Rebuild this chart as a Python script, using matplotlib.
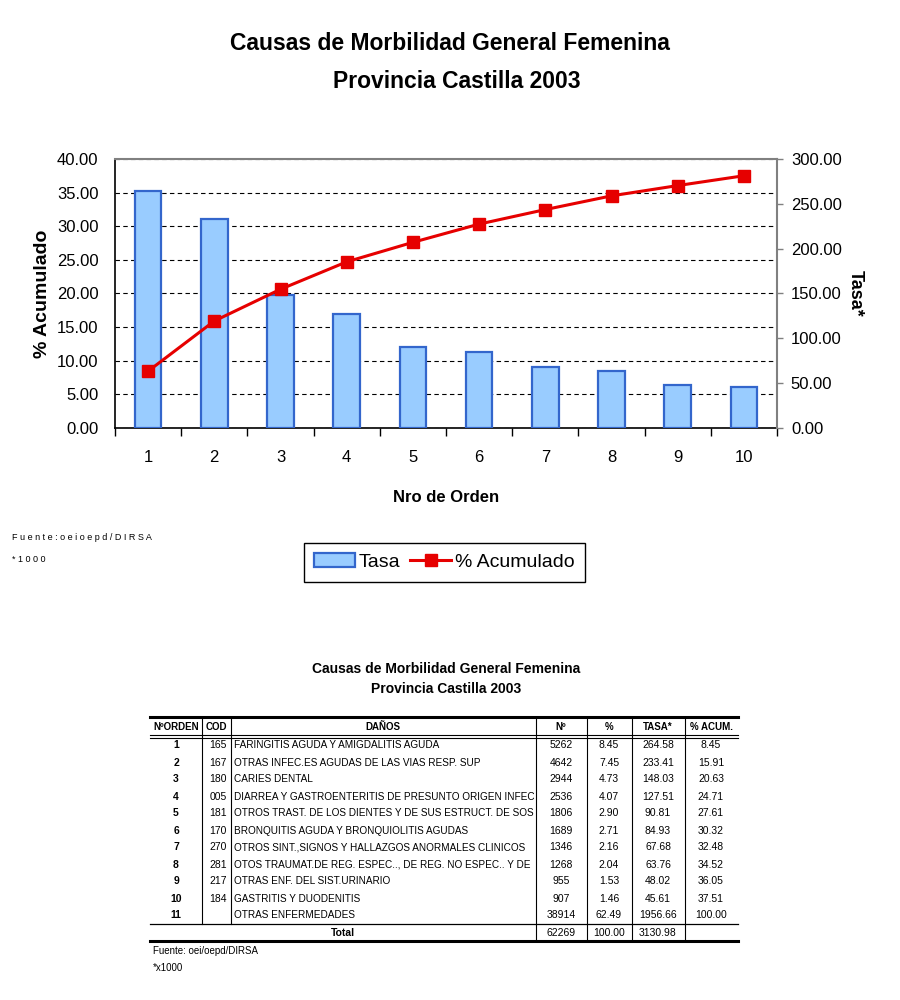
import matplotlib
matplotlib.use("Agg")
import matplotlib.pyplot as plt
from matplotlib.transforms import Bbox, TransformedBbox
from matplotlib.ticker import FixedLocator, NullFormatter, FormatStrFormatter

plt.rcParams['font.family'] = ['Liberation Sans', 'DejaVu Sans']

# ---------------- data ----------------
orden = [1, 2, 3, 4, 5, 6, 7, 8, 9, 10]
tasa = [264.58, 233.41, 148.03, 127.51, 90.81, 84.93, 67.68, 63.76, 48.02, 45.61]
acum = [8.45, 15.91, 20.63, 24.71, 27.61, 30.32, 32.48, 34.52, 36.05, 37.51]

t_orden = ['1', '2', '3', '4', '5', '6', '7', '8', '9', '10', '11']
t_cod = ['165', '167', '180', '005', '181', '170', '270', '281', '217', '184', '']
t_danos = ['FARINGITIS AGUDA Y AMIGDALITIS AGUDA',
           'OTRAS INFEC.ES AGUDAS DE LAS VIAS RESP. SUP',
           'CARIES DENTAL',
           'DIARREA Y GASTROENTERITIS DE PRESUNTO ORIGEN INFECC',
           'OTROS TRAST. DE LOS DIENTES Y DE SUS ESTRUCT. DE SOS',
           'BRONQUITIS AGUDA Y BRONQUIOLITIS AGUDAS',
           'OTROS SINT.,SIGNOS Y HALLAZGOS ANORMALES CLINICOS',
           'OTOS TRAUMAT.DE REG. ESPEC.., DE REG. NO ESPEC.. Y DE',
           'OTRAS ENF. DEL SIST.URINARIO',
           'GASTRITIS Y DUODENITIS',
           'OTRAS ENFERMEDADES']
t_n = ['5262', '4642', '2944', '2536', '1806', '1689', '1346', '1268', '955', '907', '38914']
t_pct = ['8.45', '7.45', '4.73', '4.07', '2.90', '2.71', '2.16', '2.04', '1.53', '1.46', '62.49']
t_tasa = ['264.58', '233.41', '148.03', '127.51', '90.81', '84.93', '67.68', '63.76', '48.02', '45.61', '1956.66']
t_acum = ['8.45', '15.91', '20.63', '24.71', '27.61', '30.32', '32.48', '34.52', '36.05', '37.51', '100.00']
t_total = ['62269', '100.00', '3130.98']
headers = ['NºORDEN', 'COD', 'DAÑOS', 'Nº', '%', 'TASA*', '% ACUM.']

title1 = 'Causas de Morbilidad General Femenina'
title2 = 'Provincia Castilla 2003'

# ---------------- figure ----------------
W, H = 900, 1000
fig = plt.figure(figsize=(9, 10), dpi=100)

def fx(px):
    return px / W

def fy(py):
    return 1 - py / H

# overlay in pixel coords for titles / table
ov = fig.add_axes([0, 0, 1, 1])
ov.set_xlim(0, W)
ov.set_ylim(H, 0)
ov.axis('off')

ov.text(450, 44, title1, ha='center', va='center', fontsize=16.5, fontweight='bold')
ov.text(457, 81, title2, ha='center', va='center', fontsize=16.5, fontweight='bold')

# ---------------- chart ----------------
L, R, T, B = 115, 777, 159, 428
ax = fig.add_axes([fx(L), fy(B), fx(R - L), (B - T) / H])
ax.set_xlim(0.5, 10.5)
ax.set_ylim(0, 40)
ax.yaxis.set_major_locator(FixedLocator([0, 5, 10, 15, 20, 25, 30, 35, 40]))
ax.yaxis.set_major_formatter(FormatStrFormatter('%.2f'))
ax.grid(axis='y', color='black', linestyle=(0, (4, 3)), linewidth=0.8)
ax.set_axisbelow(True)
ax.tick_params(axis='y', length=0, pad=12, labelsize=12)
ax.xaxis.set_major_locator(FixedLocator([x + 0.5 for x in [0] + orden]))
ax.xaxis.set_major_formatter(NullFormatter())
ax.set_xticks(orden, minor=True)
ax.set_xticklabels([str(o) for o in orden], minor=True)
ax.tick_params(axis='x', which='major', length=6, width=1, direction='out', color='black')
ax.tick_params(axis='x', which='minor', length=0, pad=16, labelsize=12)
ax.set_ylabel('% Acumulado', fontsize=14, fontweight='bold', labelpad=4)
ax.set_xlabel('Nro de Orden', fontsize=12, fontweight='bold', labelpad=18)
for s in ['left', 'bottom']:
    ax.spines[s].set_color('black')
    ax.spines[s].set_linewidth(1.2)
ax.spines['top'].set_color('#808080')
ax.spines['top'].set_linewidth(1.5)
ax.spines['right'].set_visible(False)

ax2 = ax.twinx()
ax2.set_ylim(0, 300)
ax2.yaxis.set_major_locator(FixedLocator([0, 50, 100, 150, 200, 250, 300]))
ax2.yaxis.set_major_formatter(FormatStrFormatter('%.2f'))
ax2.tick_params(axis='y', length=4, width=1, color='#808080', pad=6, labelsize=12)
for s in ['left', 'top', 'bottom']:
    ax2.spines[s].set_visible(False)
ax2.spines['right'].set_color('#808080')
ax2.spines['right'].set_linewidth(1.5)
bars = ax2.bar(orden, tasa, width=0.4, color='#99CCFF', edgecolor='#3366CC',
               linewidth=1.6, label='Tasa')
ax2.set_ylabel('Tasa*', fontsize=13, fontweight='bold', rotation=-90, labelpad=16)

ax3 = ax.twinx()
ax3.set_ylim(0, 40)
ax3.axis('off')
line, = ax3.plot(orden, acum, color='#E60000', linewidth=2.2, marker='s',
                 markersize=8.5, markerfacecolor='#E60000', markeredgecolor='#E60000',
                 label='% Acumulado')
ax3.set_xlim(0.5, 10.5)

fig.legend([bars, line], ['Tasa', '% Acumulado'], loc='center',
           bbox_to_anchor=(fx(444.5), fy(562)), fontsize=14, frameon=True,
           fancybox=False, edgecolor='black', framealpha=1, ncol=2,
           handlelength=2.1, handletextpad=0.2, columnspacing=0.5,
           borderpad=0.55).get_frame().set_linewidth(1.0)

ov.text(12, 537, 'F u e n t e : o e i o e p d / D I R S A', ha='left', va='center', fontsize=6.5)
ov.text(12, 560, '* 1 0 0 0', ha='left', va='center', fontsize=6.5)

# ---------------- table ----------------
ov.text(446, 669, title1, ha='center', va='center', fontsize=10, fontweight='bold')
ov.text(446, 689, title2, ha='center', va='center', fontsize=10, fontweight='bold')

TL, TR = 150, 738
y_top, y_hdr, y_dbl1, y_dbl2 = 717, 727, 735, 738
row0, step = 745.5, 17.0
y_r11_line, y_total, y_bottom = 924, 932.5, 941

ov.plot([TL, TR], [y_top, y_top], color='black', lw=2.2)
ov.plot([TL, TR], [y_dbl1, y_dbl1], color='black', lw=0.8)
ov.plot([TL, TR], [y_dbl2, y_dbl2], color='black', lw=0.8)
ov.plot([TL, TR], [y_r11_line, y_r11_line], color='black', lw=0.9)
ov.plot([TL, TR], [y_bottom, y_bottom], color='black', lw=2.2)
for xv in [202, 231]:
    ov.plot([xv, xv], [y_top, y_r11_line], color='black', lw=0.8)
for xv in [536, 587, 632, 685]:
    ov.plot([xv, xv], [y_top, y_bottom], color='black', lw=0.8)

hdr_x = [176, 216, 383, 561, 609, 658, 711]
for hx, h in zip(hdr_x, headers):
    ov.text(hx, y_hdr, h, ha='center', va='center', fontsize=7, fontweight='bold')

fs = 7.5
fs_d = 7.2
fig.canvas.draw()
clipbox = TransformedBbox(Bbox([[232, 700], [535, 960]]), ov.transData)
for i in range(len(t_orden)):
    yy = row0 + i * step
    ov.text(176, yy, t_orden[i], ha='center', va='center', fontsize=fs, fontweight='bold')
    ov.text(227, yy, t_cod[i], ha='right', va='center', fontsize=fs)
    tx = ov.text(234, yy, t_danos[i], ha='left', va='center', fontsize=fs_d)
    tx.set_clip_box(clipbox)
    tx.set_clip_on(True)
    ov.text(561, yy, t_n[i], ha='center', va='center', fontsize=fs)
    ov.text(609, yy, t_pct[i], ha='center', va='center', fontsize=fs)
    ov.text(658, yy, t_tasa[i], ha='center', va='center', fontsize=fs)
    ov.text(711, yy, t_acum[i], ha='center', va='center', fontsize=fs)

ov.text(343, y_total, 'Total', ha='center', va='center', fontsize=7.5, fontweight='bold')
for xv, v in zip([561, 609, 658], t_total):
    ov.text(xv, y_total, v, ha='center', va='center', fontsize=fs)

ov.text(153, 951, 'Fuente: oei/oepd/DIRSA', ha='left', va='center', fontsize=7)
ov.text(153, 968, '*x1000', ha='left', va='center', fontsize=7)

fig.savefig('out.png', dpi=100)
